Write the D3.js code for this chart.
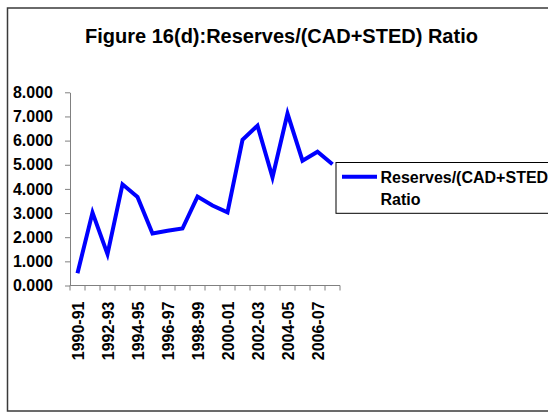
<!DOCTYPE html>
<html>
<head>
<meta charset="utf-8">
<script src="https://cdn.jsdelivr.net/npm/d3@7"></script>
<style>
  html, body { margin: 0; padding: 0; background: #fff; }
  svg { display: block; font-family: "Liberation Sans", Arial, sans-serif; }
</style>
</head>
<body>
<svg id="chart" width="548" height="413"></svg>
<script>
// Reserves/(CAD+STED) ratio by year
const years = [
  "1990-91", "1991-92", "1992-93", "1993-94", "1994-95", "1995-96",
  "1996-97", "1997-98", "1998-99", "1999-00", "2000-01", "2001-02",
  "2002-03", "2003-04", "2004-05", "2005-06", "2006-07", "2007-08"
];
const ratio = [
  0.51, 3.02, 1.30, 4.19, 3.67, 2.15,
  2.27, 2.36, 3.68, 3.31, 3.03, 6.03,
  6.62, 4.48, 7.12, 5.17, 5.54, 5.02
];
const yTicks = [0, 1, 2, 3, 4, 5, 6, 7, 8];
const titleText = "Figure 16(d):Reserves/(CAD+STED) Ratio";
const legendLines = ["Reserves/(CAD+STED)", "Ratio"];

const svg = d3.select("#chart");
const plot = { left: 70, right: 340, top: 92.3, bottom: 285.5 };

// outer chart frame (runs off the right edge like the original)
svg.append("rect")
  .attr("x", 7.5)
  .attr("y", 8)
  .attr("width", 560)
  .attr("height", 403)
  .attr("fill", "#fff")
  .attr("stroke", "#3a3a3a")
  .attr("stroke-width", 1.5);

svg.append("text")
  .attr("x", 281.5)
  .attr("y", 43)
  .attr("text-anchor", "middle")
  .style("font-size", "20px")
  .style("font-weight", "bold")
  .text(titleText);

const x = d3.scaleBand()
  .domain(years)
  .range([plot.left, plot.right]);

const y = d3.scaleLinear()
  .domain([0, 8])
  .range([plot.bottom, plot.top]);

// y axis
const yAxis = svg.append("g")
  .attr("transform", `translate(${plot.left},0)`)
  .call(d3.axisLeft(y).tickValues(yTicks).tickSize(5).tickSizeOuter(0).tickFormat(d3.format(".3f")));

yAxis.select(".domain").attr("stroke", "#808080");
yAxis.selectAll(".tick line").attr("stroke", "#808080");
yAxis.selectAll(".tick text")
  .attr("x", -17)
  .attr("fill", "#000")
  .style("font-size", "16px")
  .style("font-weight", "bold")
  .style("font-family", "'Liberation Sans', Arial, sans-serif");

// x axis - ticks sit on band edges, labels on every other year
const xAxis = svg.append("g")
  .attr("transform", `translate(0,${plot.bottom})`);

xAxis.append("line")
  .attr("x1", plot.left)
  .attr("x2", plot.right)
  .attr("stroke", "#808080");

const edges = years.map(d => x(d)).concat([plot.right]);
xAxis.selectAll(".edge")
  .data(edges)
  .join("line")
  .attr("class", "edge")
  .attr("x1", d => d)
  .attr("x2", d => d)
  .attr("y1", 0)
  .attr("y2", 5)
  .attr("stroke", "#808080");

xAxis.selectAll(".xlabel")
  .data(years.filter((d, i) => i % 2 === 0))
  .join("text")
  .attr("class", "xlabel")
  .attr("transform", d => `translate(${x(d) + x.bandwidth() / 2 + 6},16) rotate(-90)`)
  .attr("text-anchor", "end")
  .style("font-size", "16px")
  .style("font-weight", "bold")
  .text(d => d);

// series line
const line = d3.line()
  .x((d, i) => x(years[i]) + x.bandwidth() / 2)
  .y(d => y(d));

svg.append("path")
  .datum(ratio)
  .attr("d", line)
  .attr("fill", "none")
  .attr("stroke", "#0000ff")
  .attr("stroke-width", 4)
  .attr("stroke-linejoin", "miter");

// legend
const legend = svg.append("g").attr("transform", "translate(336,162.5)");

legend.append("rect")
  .attr("width", 240)
  .attr("height", 50.8)
  .attr("fill", "#fff")
  .attr("stroke", "#000")
  .attr("stroke-width", 1);

legend.append("line")
  .attr("x1", 6)
  .attr("x2", 41)
  .attr("y1", 14.2)
  .attr("y2", 14.2)
  .attr("stroke", "#0000ff")
  .attr("stroke-width", 4);

legend.selectAll(".ltext")
  .data(legendLines)
  .join("text")
  .attr("class", "ltext")
  .attr("x", 44.5)
  .attr("y", (d, i) => 20.8 + i * 21.7)
  .style("font-size", "16px")
  .style("font-weight", "bold")
  .text(d => d);
</script>
</body>
</html>
